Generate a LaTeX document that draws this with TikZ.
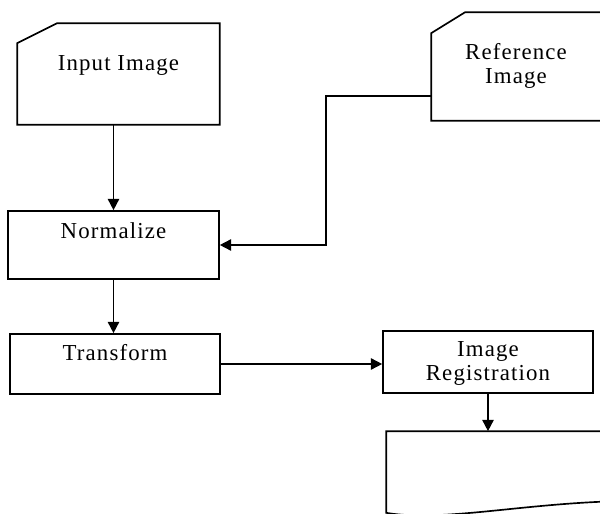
\documentclass[tikz,border=0pt]{standalone}
\usepackage{fontspec}
\setmainfont{Liberation Serif}[LetterSpace=5]
\usetikzlibrary{arrows.meta,positioning,calc}

\tikzset{
  block/.style={draw, inner sep=0pt},
  shell/.style={inner sep=0pt},
  caption/.style={inner sep=0pt, align=center, font=\fontsize{13}{13.6}\selectfont},
  flow/.style={-{Triangle[length=6.5pt,width=6.5pt]}}
}

\begin{document}
\begin{tikzpicture}[x=0.02cm, y=-0.02cm, line width=0.95pt]
\useasboundingbox (0,0) rectangle (600,514);
\clip (0,0) rectangle (600,514);

% input card
\node[shell, minimum width=4.02cm, minimum height=2cm] (input) at (118.5,74) {};
\draw (input.south west) -- ($(input.north west)+(0,20)$) -- ($(input.north west)+(40,0)$) -- (input.north east) -- (input.south east) -- cycle;
\node[caption, below=18.2pt of input.north] (inputtxt) {Input Image};

% reference card
\node[shell, minimum width=4.16cm, minimum height=2.14cm] (refimg) at (536,66.5) {};
\draw (refimg.south west) -- ($(refimg.north west)+(0,21)$) -- ($(refimg.north west)+(34,0)$) -- (refimg.north east) -- (refimg.south east) -- cycle;
\node[caption, below=17.5pt of refimg.north, xshift=-0.4cm] (reftxt) {Reference\\Image};

% process boxes
\node[block, minimum width=4.22cm, minimum height=1.36cm] (norm) at (113.5,245) {};
\node[caption, below=6.5pt of norm.north] (normtxt) {Normalize};

\node[block, minimum width=4.2cm, minimum height=1.2cm] (trans) at (115,364) {};
\node[caption, below=6pt of trans.north] (transtxt) {Transform};

\node[block, minimum width=4.2cm, minimum height=1.24cm] (reg) at (488,362) {};
\node[caption, below=6pt of reg.north] (regtxt) {Image\\Registration};

% output document
\node[shell, minimum width=5.06cm, minimum height=1.36cm] (doc) at (513.5,466) {};
\draw (doc.south east) -- (doc.north east) -- (doc.north west) -- ($(doc.south west)+(0,12)$)
  .. controls ($(doc.south west)+(60,22)$) and ($(doc.south east)+(-110,0)$) .. (doc.south east);

% connectors
\coordinate (bend) at (326,96);
\draw[flow] (input.south -| norm.north) -- (norm.north);
\draw[flow] (refimg.west |- bend) -- (bend) |- (norm.east);
\draw[flow] (norm.south) -- (norm.south |- trans.north);
\draw[flow] (trans.east) -- (trans.east -| reg.west);
\draw[flow] (reg.south) -- (reg.south |- doc.north);
\end{tikzpicture}
\end{document}
